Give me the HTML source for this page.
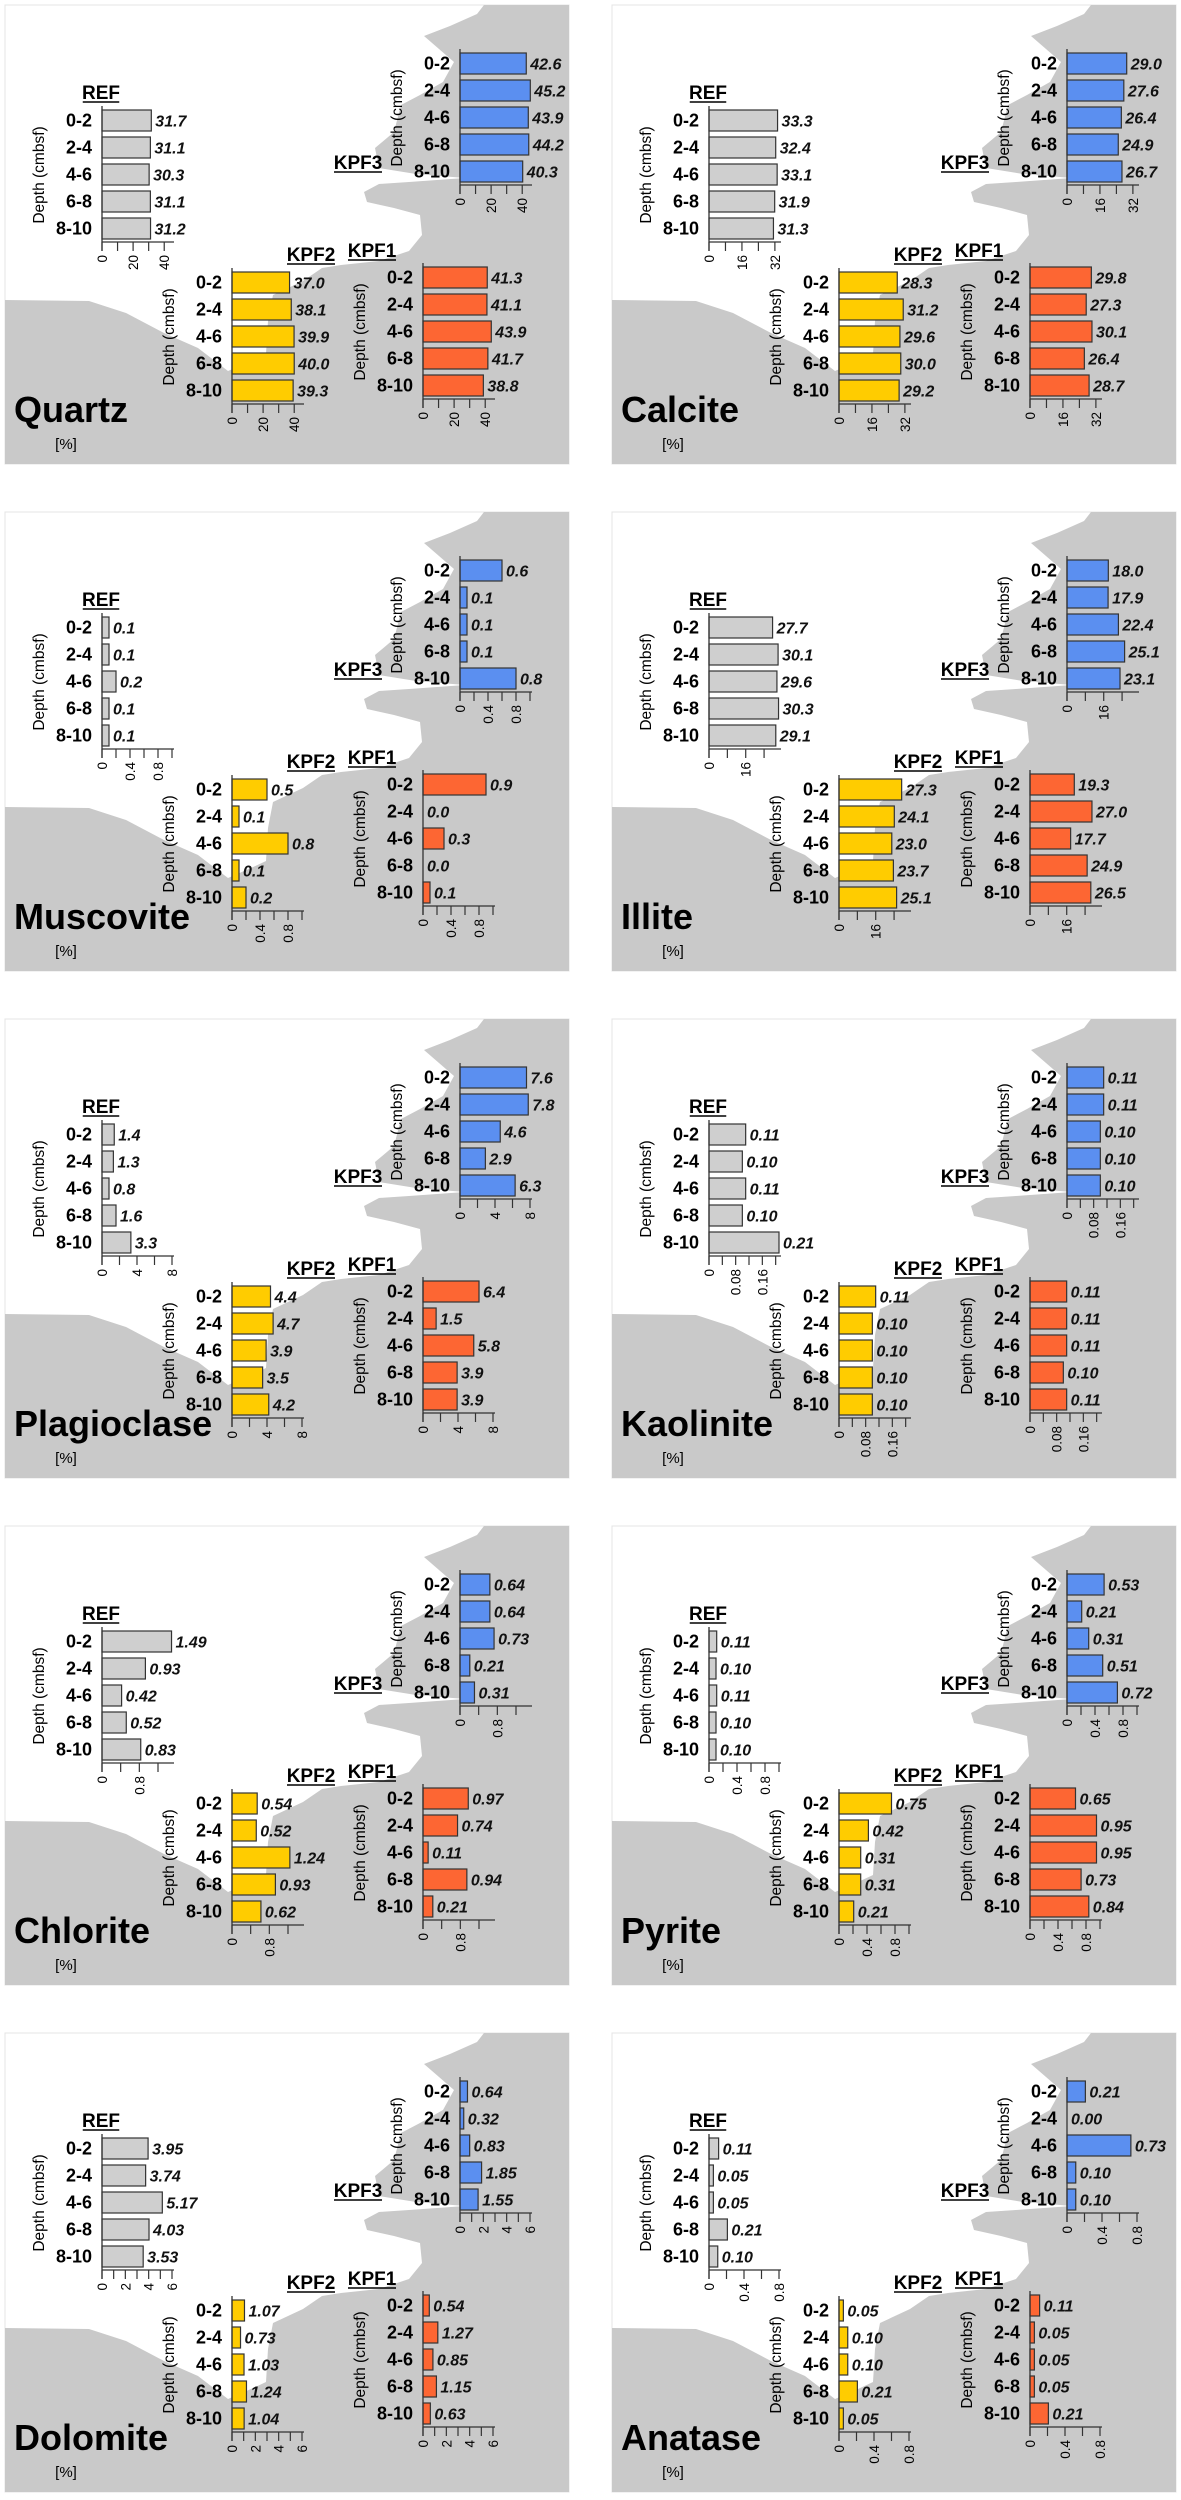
<!DOCTYPE html>
<html><head><meta charset="utf-8">
<style>
html,body{margin:0;padding:0;background:#fff;}
svg{display:block;font-family:"Liberation Sans",Arial,sans-serif;}
</style></head>
<body>
<svg id="fig" width="1181" height="2500" viewBox="0 0 1181 2500" xmlns="http://www.w3.org/2000/svg"></svg>
<script>
// ---- data ----
const minerals = ["Quartz","Calcite","Muscovite","Illite","Plagioclase","Kaolinite","Chlorite","Pyrite","Dolomite","Anatase"];
const depthCategories = ["0-2","2-4","4-6","6-8","8-10"];
const siteNames = ["REF","KPF3","KPF2","KPF1"];
const refValues = [
 [31.7,31.1,30.3,31.1,31.2],[33.3,32.4,33.1,31.9,31.3],[0.1,0.1,0.2,0.1,0.1],[27.7,30.1,29.6,30.3,29.1],
 [1.4,1.3,0.8,1.6,3.3],[0.11,0.10,0.11,0.10,0.21],[1.49,0.93,0.42,0.52,0.83],[0.11,0.10,0.11,0.10,0.10],
 [3.95,3.74,5.17,4.03,3.53],[0.11,0.05,0.05,0.21,0.10]];
const kpf3Values = [
 [42.6,45.2,43.9,44.2,40.3],[29.0,27.6,26.4,24.9,26.7],[0.6,0.1,0.1,0.1,0.8],[18.0,17.9,22.4,25.1,23.1],
 [7.6,7.8,4.6,2.9,6.3],[0.11,0.11,0.10,0.10,0.10],[0.64,0.64,0.73,0.21,0.31],[0.53,0.21,0.31,0.51,0.72],
 [0.64,0.32,0.83,1.85,1.55],[0.21,0.00,0.73,0.10,0.10]];
const kpf2Values = [
 [37.0,38.1,39.9,40.0,39.3],[28.3,31.2,29.6,30.0,29.2],[0.5,0.1,0.8,0.1,0.2],[27.3,24.1,23.0,23.7,25.1],
 [4.4,4.7,3.9,3.5,4.2],[0.11,0.10,0.10,0.10,0.10],[0.54,0.52,1.24,0.93,0.62],[0.75,0.42,0.31,0.31,0.21],
 [1.07,0.73,1.03,1.24,1.04],[0.05,0.10,0.10,0.21,0.05]];
const kpf1Values = [
 [41.3,41.1,43.9,41.7,38.8],[29.8,27.3,30.1,26.4,28.7],[0.9,0.0,0.3,0.0,0.1],[19.3,27.0,17.7,24.9,26.5],
 [6.4,1.5,5.8,3.9,3.9],[0.11,0.11,0.11,0.10,0.11],[0.97,0.74,0.11,0.94,0.21],[0.65,0.95,0.95,0.73,0.84],
 [0.54,1.27,0.85,1.15,0.63],[0.11,0.05,0.05,0.05,0.21]];
const valueDecimals = [1,1,1,1,1,2,2,2,2,2];
const axisMaxValues = [45,34,1.0,30.5,8,0.21,1.5,1.0,6,0.8];
const minorTickSteps = [10,8,0.2,8,2,0.04,0.4,0.2,1,0.2];
const tickLabels = [
 ["0","20","40"],["0","16","32"],["0","0.4","0.8"],["0","16"],["0","4","8"],
 ["0","0.08","0.16"],["0","0.8"],["0","0.4","0.8"],["0","2","4","6"],["0","0.4","0.8"]];

// ---- layout ----
const NS="http://www.w3.org/2000/svg";
const svg=document.getElementById('fig');
const PW=564, PH=459, AXLEN=70, PITCH=27, BARH=21;
const siteColors=["#cfcfcf","#5b8ff0","#ffcc00","#fd6633"];
const siteLayout=[
 {ax:97,top:105,tx:96,ty:94},
 {ax:455,top:48,tx:353,ty:164},
 {ax:227,top:267,tx:306,ty:256},
 {ax:418,top:262,tx:367,ty:252}];
const landPts=[[0,295],[84,296],[121,308],[159,328],[193,343],[223,366],[246,356],[261,349],[263,316],[268,290],[298,276],[317,263],[336,260],[374,256],[404,246],[417,230],[415,210],[389,203],[362,197],[359,187],[374,179],[404,177],[460,173],[411,169],[374,163],[370,143],[389,127],[396,100],[415,90],[438,77],[449,57],[434,44],[419,31],[445,21],[472,9],[479,0],[564,0],[564,459],[0,459]];

function el(tag,attrs,parent,text){
  const e=document.createElementNS(NS,tag);
  for(const k in attrs) e.setAttribute(k,attrs[k]);
  if(text!==undefined) e.textContent=text;
  parent.appendChild(e); return e;
}
const allSites=[refValues,kpf3Values,kpf2Values,kpf1Values];

minerals.forEach((m,mi)=>{
  const col=mi%2, row=Math.floor(mi/2);
  const px=col?612:5, py=5+row*507;
  const g=el('g',{transform:`translate(${px},${py})`},svg);
  
  
  const bg=el('rect',{x:0,y:0,width:PW,height:PH,fill:'#fff',stroke:'#e4e4e4','stroke-width':1},g);
  
  
  const land=el('polygon',{points:landPts.map(p=>p.join(',')).join(' '),fill:'#c9c9c9'},g);
  
  

  const name=el('text',{x:9,y:417,'font-size':36,'font-weight':'bold',fill:'#000'},g,m);
  
  
  const unit=el('text',{x:61,y:444,'font-size':15,'text-anchor':'middle',fill:'#000'},g,'[%]');
  
  

  const axMax=axisMaxValues[mi];
  const xs=v=>v/axMax*AXLEN;
  siteNames.forEach((s,si)=>{
    const L=siteLayout[si];
    const cg=el('g',{transform:`translate(${L.ax},${L.top})`},g);
    
    
    const t=el('text',{x:L.tx-L.ax,y:L.ty-L.top,'font-size':19,'font-weight':'bold','text-anchor':'middle'},cg,s);
    
    
    const tw=s.length*11.5;
    el('line',{x1:L.tx-L.ax-tw/2-1,x2:L.tx-L.ax+tw/2+1,y1:L.ty-L.top+3,y2:L.ty-L.top+3,stroke:'#000','stroke-width':1.6},cg);
    const dl=el('text',{transform:`translate(-62,65) rotate(-90)`,'font-size':15.5,'text-anchor':'middle','dominant-baseline':'middle'},cg,'Depth (cmbsf)');
    
    
    const vals=allSites[si][mi];
    vals.forEach((v,i)=>{
      const y=i*PITCH;
      const cat=el('text',{x:-10,y:y+BARH/2+6,'font-size':18,'font-weight':'bold','text-anchor':'end'},cg,depthCategories[i]);
      
      
      const w=xs(v);
      if(w>0){
        const b=el('rect',{x:0,y:y,width:w,height:BARH,fill:siteColors[si],stroke:'#333','stroke-width':1.2},cg);
        
        
      }
      const vl=el('text',{x:w+4,y:y+BARH/2+6,'font-size':16,'font-weight':'bold','font-style':'italic',fill:'#111'},cg,v.toFixed(valueDecimals[mi]));
      
      
    });
    const axY=4*PITCH+BARH+3;
    el('line',{x1:0,x2:0,y1:-4,y2:axY+9,stroke:'#333','stroke-width':1.3},cg);
    el('line',{x1:0,x2:AXLEN+2,y1:axY,y2:axY,stroke:'#333','stroke-width':1.3},cg);
    const step=minorTickSteps[mi];
    for(let k=0;k*step<=axMax+1e-9;k++){
      const tx=xs(k*step);
      el('line',{x1:tx,x2:tx,y1:axY,y2:axY+9,stroke:'#333','stroke-width':1.2},cg);
    }
    tickLabels[mi].forEach(lbl=>{
      const tx=xs(parseFloat(lbl));
      const tl=el('text',{transform:`translate(${tx+5},${axY+13}) rotate(-90)`,'font-size':13.5,'text-anchor':'end'},cg,lbl);
      
      
    });
  });
});
</script>
</body></html>
